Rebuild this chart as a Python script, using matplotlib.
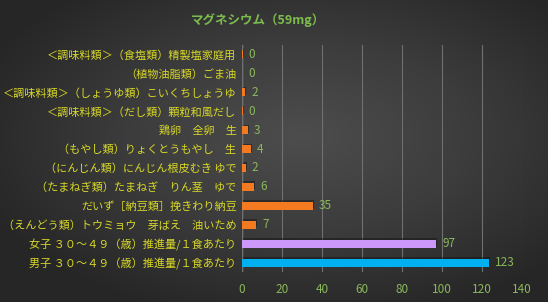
import numpy as np
import matplotlib
matplotlib.use("Agg")
import matplotlib.pyplot as plt
from matplotlib.colors import LinearSegmentedColormap

plt.rcParams['font.family'] = ['Noto Sans CJK JP', 'DejaVu Sans']

title = "マグネシウム（59mg）"
categories = [
    "＜調味料類＞（食塩類）精製塩家庭用",
    "（植物油脂類）ごま油",
    "＜調味料類＞（しょうゆ類）こいくちしょうゆ",
    "＜調味料類＞（だし類）顆粒和風だし",
    "鶏卵　全卵　生",
    "（もやし類）りょくとうもやし　生",
    "（にんじん類）にんじん根皮むき ゆで",
    "（たまねぎ類）たまねぎ　りん茎　ゆで",
    "だいず［納豆類］挽きわり納豆",
    "（えんどう類）トウミョウ　芽ばえ　油いため",
    "女子 ３０～４９（歳）推進量/１食あたり",
    "男子 ３０～４９（歳）推進量/１食あたり",
]
values = [0.4, 0.0, 1.6, 0.3, 3.0, 4.4, 1.8, 6.0, 35.4, 7.0, 97.0, 123.4]
value_labels = ["0", "0", "2", "0", "3", "4", "2", "6", "35", "7", "97", "123"]
colors = ["#f47a22"] * 10 + ["#cc99fa", "#00b0f0"]
xticks = [0, 20, 40, 60, 80, 100, 120, 140]

W, H = 548, 302
fig = plt.figure(figsize=(W / 100, H / 100), dpi=100)

# background gradient
bg = fig.add_axes([0, 0, 1, 1], zorder=-10)
yy, xx = np.mgrid[0:1:200j, 0:1:360j]
r = np.sqrt(((xx - 0.55) / 0.9) ** 2 + ((yy - 0.55) / 0.9) ** 2)
cmap = LinearSegmentedColormap.from_list("bg", ["#4d4d4d", "#3c3c3c", "#262626"])
bg.imshow(r, cmap=cmap, aspect="auto", extent=[0, 1, 0, 1], origin="lower", vmin=0, vmax=0.7)
bg.axis("off")

ax = fig.add_axes([242 / W, 1 - 272 / H, (522 - 242) / W, (272 - 45) / H])
ax.patch.set_alpha(0)
y = np.arange(len(categories))
# shadows
ax.barh(y - 0.08, values, height=0.42, left=0.6, color="#111111", alpha=0.45, zorder=2)
ax.barh(y, values, height=0.42, color=colors, zorder=3)
for yi, v, lab in zip(y, values, value_labels):
    ax.text(v + 3, yi, lab, va="center", ha="left", color="#8ab85a", fontsize=8.5, zorder=4)

ax.set_xlim(0, 140)
ax.set_ylim(len(categories) - 0.5, -0.5)
ax.set_yticks(y)
ax.set_yticklabels(categories, color="#d8d828", fontsize=8)
ax.set_xticks(xticks)
ax.set_xticklabels([str(t) for t in xticks], color="#8ab85a", fontsize=8.5)
ax.tick_params(axis="both", length=0, pad=4)
ax.tick_params(axis="x", pad=8)
ax.grid(axis="x", color="#707070", linewidth=0.8, zorder=0)
ax.axvline(0, color="#bdbdbd", linewidth=0.9, zorder=1)
for s in ax.spines.values():
    s.set_visible(False)

fig.text(258 / W, 1 - 20 / H, title, ha="center", va="center", color="#7cbc4c",
         fontsize=9, fontweight="bold")

fig.savefig("out.png", dpi=100)
